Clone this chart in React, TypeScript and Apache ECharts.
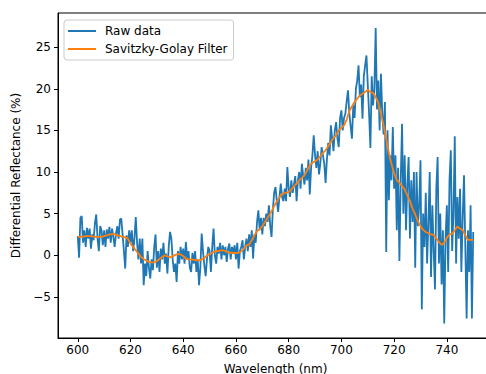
import React, { useEffect, useRef } from "react";
import * as echarts from "echarts";

// Raw data: 600 → 750 nm, 0.5 nm step
const rawStart = 600;
const rawStep = 0.5;
const rawValues: number[] = [
  2.3, -0.3, 4.5, 4.7, 1.5, 3.0, 1.0, 3.3, 2.0, 3.2, 0.8, 2.5, 1.8, 3.8, 4.9, 2.0, 0.5, 3.5, 3.0, 1.2,
  3.0, 1.0, 3.1, 2.0, 3.4, 1.5, 3.2, 2.2, 1.0, 2.6, 3.5, 2.0, 4.3, 4.4, 2.5, 0.5, -1.6, 2.4, 1.0, 3.0,
  1.5, 3.0, 0.5, 2.0, 4.6, 1.5, -0.5, 2.0, -1.0, 2.0, -3.6, -1.0, -2.5, 0.5, -1.5, -2.8, -0.5, -1.8, 1.0, 2.5,
  -1.5, 0.5, -2.0, 0.8, -0.5, 1.5, -1.0, 0.2, -2.2, 1.0, 2.8, 2.0, -0.5, -2.0, -1.0, -3.2, 0.5, -1.0, 1.0, -0.5,
  0.8, -1.0, 1.6, -0.5, 0.5, -1.5, -2.0, 0.3, -1.0, 0.5, -2.0, -0.5, -3.6, -1.5, 2.6, 0.5, -1.2, -2.5, -0.5, 1.0,
  0.5, -2.0, 1.0, 3.2, 0.0, -1.0, 1.0, 0.2, 1.5, -0.5, 1.2, 0.0, 1.0, -0.8, 0.8, 1.4, -0.5, 1.0, 0.2, 1.2,
  -0.5, 1.5, -1.6, 0.5, 1.0, 1.8, -0.5, 1.0, 2.0, 0.5, 2.5, 1.0, 3.0, -0.4, 2.5, 1.5, 4.0, 5.4, 3.0, 4.5,
  2.5, 4.5, 3.5, 5.0, 4.0, 6.0, 3.5, 2.2, 5.5, 7.5, 8.2, 6.5, 5.2, 7.0, 8.6, 7.0, 6.5, 8.0, 6.5, 10.6,
  8.0, 7.0, 9.0, 7.5, 8.5, 9.5, 6.5, 9.0, 10.0, 8.0, 11.0, 9.5, 8.5, 10.5, 9.0, 11.5, 7.3, 10.5, 12.0, 14.4,
  12.0, 10.5, 12.5, 9.7, 11.0, 13.0, 12.0, 11.0, 8.7, 11.5, 13.5, 12.0, 15.6, 14.0, 12.5, 15.0, 16.0, 14.0, 13.0, 16.5,
  17.4, 15.0, 16.5, 17.0, 18.5, 19.8, 17.0, 15.5, 14.0, 18.0, 16.5, 20.0, 21.0, 22.8, 19.0, 20.5, 16.4, 21.5, 22.8, 24.0,
  20.5, 17.0, 12.9, 21.5, 18.0, 20.0, 27.3, 17.5, 21.0, 15.0, 21.8, 17.0, 14.5, 18.4, 0.4, 15.0, 6.6, 12.0, 9.0, 15.4,
  8.0, 12.0, 3.0, 10.5, -0.7, 9.0, 15.8, 5.0, 12.0, 3.0, 8.5, 11.8, 2.0, 9.0, 4.0, 10.0, -1.5, 10.0, 3.5, 6.0,
  11.4, -6.5, 5.0, 1.0, 7.5, -1.0, 4.0, 10.0, -2.6, 6.0, 0.5, -4.1, 8.0, 11.8, -1.0, 5.0, -3.5, 3.0, -8.2, 2.0,
  6.0, -2.0, 9.0, 12.6, 0.5, 5.0, 14.3, -1.0, 7.0, 2.0, 8.0, -2.0, 4.5, 9.6, 1.0, -7.6, 3.0, -2.0, 6.0, -7.6,
  2.8,
];

// Savitzky-Golay filtered: 600 → 750 nm, 1 nm step
const smoothStart = 600;
const smoothStep = 1;
const smoothValues: number[] = [
  2.2, 2.2, 2.25, 2.3, 2.3, 2.3, 2.25, 2.2, 2.2, 2.2,
  2.3, 2.4, 2.5, 2.55, 2.5, 2.4, 2.3, 2.2, 2.15, 2.0,
  1.4, 1.0, 0.6, 0.2, -0.2, -0.45, -0.65, -0.8, -0.85, -0.85,
  -0.7, -0.45, -0.2, 0.0, -0.15, -0.25, -0.1, 0.05, 0.15, 0.1,
  -0.1, -0.4, -0.5, -0.5, -0.55, -0.6, -0.65, -0.5, -0.3, -0.05,
  0.15, 0.3, 0.45, 0.5, 0.55, 0.6, 0.5, 0.35, 0.3, 0.3,
  0.25, 0.3, 0.45, 0.8, 1.15, 1.3, 1.8, 2.4, 2.9, 3.1,
  3.5, 4.0, 4.5, 5.0, 5.6, 6.2, 6.7, 7.2, 7.45, 7.5,
  7.6, 7.9, 8.3, 8.6, 9.0, 9.3, 9.6, 10.2, 10.8, 11.1,
  11.3, 11.5, 11.9, 12.3, 12.6, 13.1, 13.6, 14.1, 14.4, 15.0,
  15.3, 15.6, 16.3, 17.3, 17.9, 18.4, 18.8, 19.2, 19.4, 19.6,
  19.9, 19.6, 19.5, 19.0, 18.3, 17.0, 15.6, 14.0, 12.3, 11.0,
  9.8, 9.05, 8.7, 8.3, 7.9, 7.2, 6.5, 5.6, 4.9, 4.1,
  3.5, 3.05, 2.8, 2.65, 2.5, 2.45, 2.0, 1.6, 1.24, 1.5,
  2.1, 2.5, 2.6, 3.0, 3.45, 3.2, 3.0, 2.4, 1.84, 1.84,
  1.84,
];

const xTicks = [600, 620, 640, 660, 680, 700, 720, 740];
const yTicks = [-5, 0, 5, 10, 15, 20, 25];
const seriesNames = ["Raw data", "Savitzky-Golay Filter"];

const FONT = "DejaVu Sans";

export default function App() {
  const ref = useRef<HTMLDivElement>(null);

  useEffect(() => {
    if (!ref.current) return;
    const chart = echarts.init(ref.current, undefined, { renderer: "svg" });

    const rawData = rawValues.map((v, i) => [rawStart + i * rawStep, v]);
    const smoothData = smoothValues.map((v, i) => [smoothStart + i * smoothStep, v]);

    const fmt = (v: number) => (v < 0 ? "\u2212" + Math.abs(v) : String(v));

    chart.setOption({
      animation: false,
      backgroundColor: "#ffffff",
      textStyle: { fontFamily: FONT },
      grid: {
        left: 58,
        top: 13,
        width: 435,
        height: 325,
        outerBoundsMode: "none",
        containLabel: false,
        show: true,
        borderColor: "#000000",
        borderWidth: 1,
        backgroundColor: "transparent",
      },
      legend: {
        left: 64,
        top: 20,
        orient: "vertical",
        data: [
          { name: seriesNames[0], icon: "rect" },
          { name: seriesNames[1], icon: "rect" },
        ],
        itemWidth: 28,
        itemHeight: 2,
        itemGap: 4,
        padding: [4, 6, 4, 4],
        backgroundColor: "rgba(255,255,255,0.8)",
        borderColor: "#cccccc",
        borderWidth: 1,
        borderRadius: 3,
        textStyle: {
          fontFamily: FONT,
          fontSize: 12,
          color: "#000000",
          lineHeight: 14,
          padding: [0, 0, 0, 4],
        },
      },
      xAxis: {
        type: "value",
        min: 592.5,
        max: 757.5,
        name: "Wavelength (nm)",
        nameLocation: "middle",
        nameGap: 25,
        nameTextStyle: { fontFamily: FONT, fontSize: 12, color: "#000000" },
        axisLine: { show: true, onZero: false, lineStyle: { color: "#000000", width: 1 } },
        axisTick: { show: true, inside: false, length: 4, customValues: xTicks, lineStyle: { color: "#000000" } },
        axisLabel: {
          show: true,
          margin: 6,
          customValues: xTicks,
          fontFamily: FONT,
          fontSize: 12,
          color: "#000000",
          formatter: (v: number) => fmt(v),
        },
        splitLine: { show: false },
      },
      yAxis: {
        type: "value",
        min: -9.94,
        max: 29.1,
        name: "Differential Reflectance (%)",
        nameLocation: "middle",
        nameGap: 29,
        nameTextStyle: { fontFamily: FONT, fontSize: 12, color: "#000000" },
        axisLine: { show: true, onZero: false, lineStyle: { color: "#000000", width: 1 } },
        axisTick: { show: true, inside: false, length: 4, customValues: yTicks, lineStyle: { color: "#000000" } },
        axisLabel: {
          show: true,
          margin: 7,
          customValues: yTicks,
          fontFamily: FONT,
          fontSize: 12,
          color: "#000000",
          formatter: (v: number) => fmt(v),
        },
        splitLine: { show: false },
      },
      series: [
        {
          name: seriesNames[0],
          type: "line",
          data: rawData,
          showSymbol: false,
          symbol: "none",
          color: "#1f77b4",
          lineStyle: { color: "#1f77b4", width: 1.8 },
          z: 2,
        },
        {
          name: seriesNames[1],
          type: "line",
          data: smoothData,
          showSymbol: false,
          symbol: "none",
          color: "#ff7f0e",
          lineStyle: { color: "#ff7f0e", width: 1.8 },
          z: 3,
        },
      ],
    });

    return () => chart.dispose();
  }, []);

  return (
    <div
      ref={ref}
      style={{ position: "fixed", left: 0, top: 0, width: 486, height: 374, background: "#fff" }}
    />
  );
}
